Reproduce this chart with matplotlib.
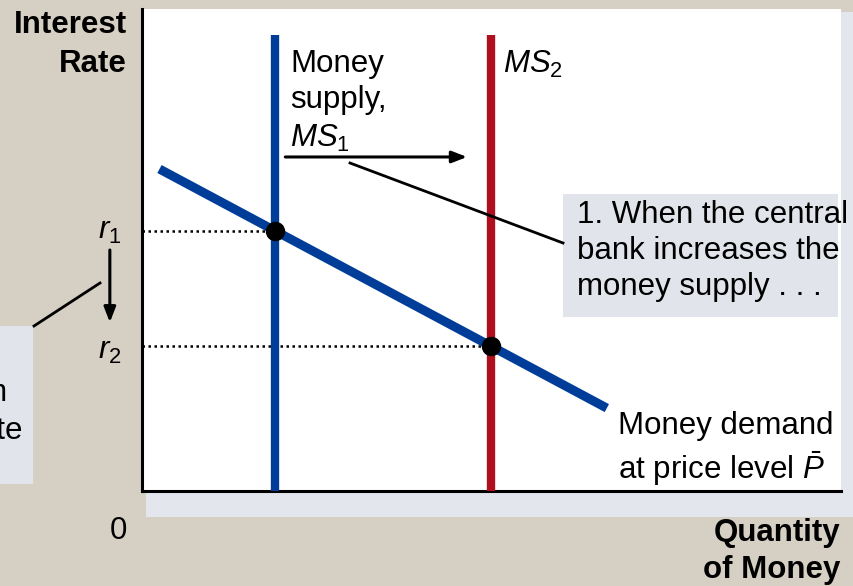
import matplotlib
matplotlib.use("Agg")
import matplotlib.pyplot as plt
from matplotlib.patches import Rectangle

# --- dati del grafico (unita' arbitrarie: quantita' 0-100, tasso 0-100) ---
ms1 = 19.0            # offerta di moneta iniziale
ms2 = 50.0            # offerta di moneta dopo l'aumento
ms_top = 94.6         # altezza delle rette verticali
r1 = 54.0             # tasso di equilibrio iniziale
r2 = 30.0             # tasso di equilibrio finale
demand_q = [2.5, 66.5]
demand_r = [66.8, 17.2]

W, H = 854, 586
BG = "#d5cfc4"
BOX = "#e1e4ea"
BLUE = "#003d99"
RED = "#b0101e"
FS = 22.5

plt.rcParams["font.family"] = ["Liberation Sans", "DejaVu Sans"]
plt.rcParams["mathtext.fontset"] = "custom"
plt.rcParams["mathtext.rm"] = "Liberation Sans"
plt.rcParams["mathtext.it"] = "Liberation Sans:italic"
plt.rcParams["mathtext.bf"] = "Liberation Sans:bold"


def fx(x):
    return x / W


def fy(y):
    return 1 - y / H


fig = plt.figure(figsize=(W / 100, H / 100), dpi=100, facecolor=BG)

# ombra del pannello
fig.patches.append(Rectangle((fx(146), fy(517)), fx(W + 10) - fx(146), fy(12) - fy(517),
                             transform=fig.transFigure, facecolor="#e3e6ec",
                             edgecolor="none", zorder=-1))

ax = fig.add_axes([fx(142), fy(491), fx(841) - fx(142), fy(9) - fy(491)])
ax.set_zorder(0)
ax.set_facecolor("white")
ax.set_xlim(0, 100)
ax.set_ylim(0, 100)
for s in ["top", "right"]:
    ax.spines[s].set_visible(False)
for s in ["left", "bottom"]:
    ax.spines[s].set_linewidth(2.2)
ax.set_xticks([])
ax.set_yticks([])

# rette di offerta
ax.plot([ms1, ms1], [0, ms_top], color=BLUE, lw=6, solid_capstyle="butt", zorder=3)
ax.plot([ms2, ms2], [0, ms_top], color=RED, lw=6, solid_capstyle="butt", zorder=3)
# domanda di moneta
ax.plot(demand_q, demand_r, color=BLUE, lw=6.5, solid_capstyle="butt", zorder=4)
# linee tratteggiate
ax.plot([0, ms1], [r1, r1], color="black", lw=1.8, ls=(0, (1, 1.4)), zorder=2)
ax.plot([0, ms2], [r2, r2], color="black", lw=1.8, ls=(0, (1, 1.4)), zorder=2)
# punti di equilibrio
ax.plot([ms1, ms2], [r1, r2], "o", color="black", ms=13, zorder=5)

# freccia orizzontale (spostamento dell'offerta)
ax.annotate("", xy=(46.5, 69.3), xytext=(20.5, 69.3),
            arrowprops=dict(arrowstyle="-|>,head_length=0.9,head_width=0.35",
                            color="black", lw=2.2, shrinkA=0, shrinkB=0))
# freccia verso il basso r1 -> r2
ax.annotate("", xy=(-4.6, 35), xytext=(-4.6, 50), annotation_clip=False,
            arrowprops=dict(arrowstyle="-|>,head_length=0.9,head_width=0.35",
                            color="black", lw=2.2, shrinkA=0, shrinkB=0))

# etichette
ax.text(21.2, 91.8, "Money\nsupply,\n$MS_1$", fontsize=FS, ha="left", va="top",
        linespacing=1.3)
ax.text(51.6, 91.8, "$MS_2$", fontsize=FS, ha="left", va="top")
ax.text(68.1, 16.5, "Money demand\nat price level $\\bar{P}$", fontsize=FS,
        ha="left", va="top", linespacing=1.25)
ax.text(-4.6, r1, "$r_1$", fontsize=FS, ha="center", va="center", clip_on=False)
ax.text(-4.6, r2 - 1, "$r_2$", fontsize=FS, ha="center", va="center", clip_on=False)

fig.text(fx(127), fy(10), "Interest\nRate", fontsize=FS, fontweight="bold",
         ha="right", va="top", multialignment="right", linespacing=1.4)
fig.text(fx(840), fy(518), "Quantity\nof Money", fontsize=FS, fontweight="bold",
         ha="right", va="top", multialignment="right", linespacing=1.3)
fig.text(fx(118), fy(531), "0", fontsize=FS, ha="center", va="center")

# riquadro destro
fig.patches.append(Rectangle((fx(563), fy(317)), fx(838) - fx(563), fy(194) - fy(317),
                             transform=fig.transFigure, facecolor=BOX,
                             edgecolor="none", zorder=1))
fig.text(fx(577), fy(200), "1. When the central\nbank increases the\nmoney supply . . .",
         fontsize=FS, ha="left", va="top", linespacing=1.25, zorder=2)
fig.lines.append(plt.Line2D([fx(350), fx(563)], [fy(163), fy(243)],
                            transform=fig.transFigure, color="black", lw=2, zorder=2))

# riquadro sinistro (tagliato dal bordo)
fig.patches.append(Rectangle((fx(-5), fy(484)), fx(33) - fx(-5), fy(326) - fy(484),
                             transform=fig.transFigure, facecolor=BOX,
                             edgecolor="none", zorder=1))
fig.text(fx(-143), fy(340), "2. . . . the\nequilibrium\ninterest rate\nfalls.",
         fontsize=FS, ha="left", va="top", linespacing=1.35, zorder=2)
fig.lines.append(plt.Line2D([fx(34), fx(100)], [fy(326), fy(283)],
                            transform=fig.transFigure, color="black", lw=2, zorder=2))

fig.savefig("out.png", dpi=100, facecolor=BG)
